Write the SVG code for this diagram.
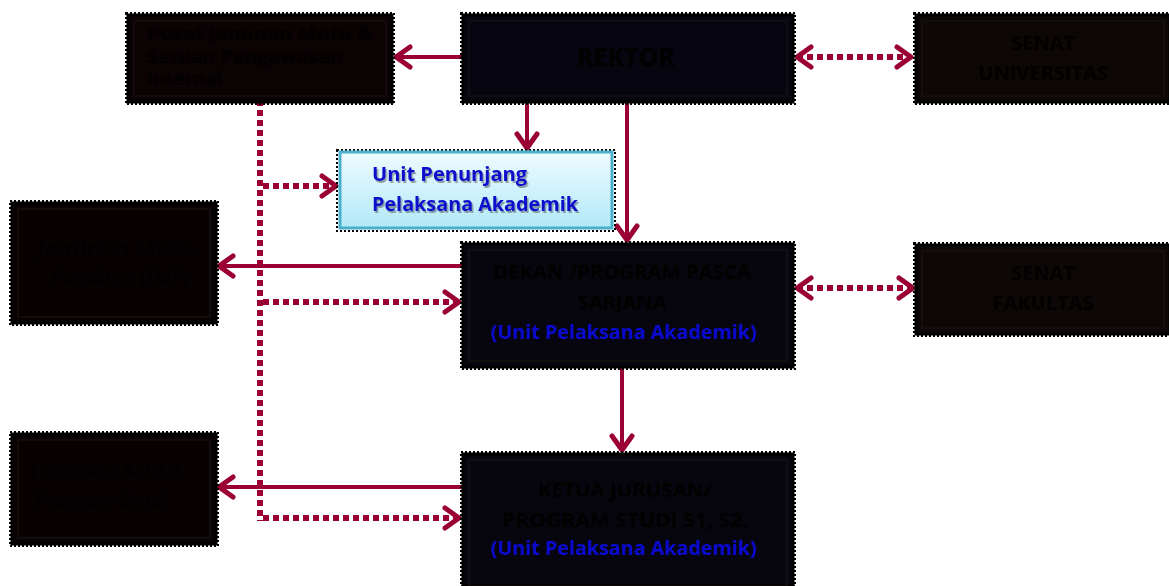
<svg xmlns="http://www.w3.org/2000/svg" width="1169" height="586" viewBox="0 0 1169 586">
<defs>
<linearGradient id="blue" x1="0" y1="0" x2="0" y2="1">
<stop offset="0" stop-color="#eefbff"/>
<stop offset="1" stop-color="#b2e9f9"/>
</linearGradient>
<filter id="shadow" x="-10%" y="-30%" width="120%" height="160%">
<feDropShadow dx="1.5" dy="2" stdDeviation="0.6" flood-color="#333" flood-opacity="0.45"/>
</filter>
<marker id="ah" markerUnits="userSpaceOnUse" markerWidth="30" markerHeight="30" viewBox="-20 -15 24 30" refX="0" refY="0" orient="auto-start-reverse">
<path d="M -14 -10 L 0 0 L -14 10" fill="none" stroke="#9a0036" stroke-width="5" stroke-linecap="round" stroke-linejoin="round"/>
</marker>
<style>
.box{stroke:#000;stroke-width:3}
.edge{fill:none;stroke:#000;stroke-width:2;stroke-dasharray:2 2}
.inner{fill:none;stroke:#1c1414;stroke-width:1}
.t{font-family:"Open Sans","Liberation Sans",sans-serif;font-weight:bold;fill:#030000}
.b{font-family:"Open Sans","Liberation Sans",sans-serif;font-weight:bold;fill:#0a0acc}
.solid{fill:none;stroke:#9a0036;stroke-width:4}
.dot{fill:none;stroke:#9a0036;stroke-width:6;stroke-dasharray:6 4}
</style>
</defs>
<rect width="1169" height="586" fill="#fff"/>

<g id="connectors">
<line class="solid" x1="462" y1="57" x2="396" y2="57" marker-end="url(#ah)"/>
<line class="dot" x1="797" y1="57" x2="911" y2="57" marker-start="url(#ah)" marker-end="url(#ah)"/>
<line class="solid" x1="527" y1="103" x2="527" y2="148" marker-end="url(#ah)"/>
<line class="solid" x1="627" y1="97" x2="627" y2="240" marker-end="url(#ah)"/>
<line class="dot" x1="260" y1="100" x2="260" y2="521"/>
<line class="dot" x1="263" y1="186" x2="336" y2="186" marker-end="url(#ah)"/>
<line class="solid" x1="462" y1="266" x2="219" y2="266" marker-end="url(#ah)"/>
<line class="dot" x1="263" y1="302" x2="459" y2="302" marker-end="url(#ah)"/>
<line class="dot" x1="797" y1="288" x2="913" y2="288" marker-start="url(#ah)" marker-end="url(#ah)"/>
<line class="solid" x1="622" y1="367" x2="622" y2="450" marker-end="url(#ah)"/>
<line class="solid" x1="462" y1="487" x2="219" y2="487" marker-end="url(#ah)"/>
<line class="dot" x1="263" y1="518" x2="459" y2="518" marker-end="url(#ah)"/>
</g>

<g id="pusat">
<rect class="edge" x="126" y="13" width="268" height="91"/>
<rect class="box" x="128" y="15" width="264" height="87" fill="#0a0203"/>
<rect class="inner" x="134" y="21" width="252" height="75"/>
<text class="t" font-size="17" x="147" y="40" textLength="225" lengthAdjust="spacingAndGlyphs">Pusat Jaminan Mutu &amp;</text>
<text class="t" font-size="17" x="147" y="63" textLength="196" lengthAdjust="spacingAndGlyphs">Satuan Pengawasan</text>
<text class="t" font-size="17" x="147" y="85" textLength="75" lengthAdjust="spacingAndGlyphs">Internal</text>
</g>

<g id="rektor">
<rect class="edge" x="461" y="13" width="334" height="91"/>
<rect class="box" x="463" y="15" width="330" height="87" fill="#07050f"/>
<rect class="inner" x="469" y="21" width="318" height="75"/>
<text class="t" font-size="25" x="626" y="66" text-anchor="middle">REKTOR</text>
</g>

<g id="senat-univ">
<rect class="edge" x="914" y="13" width="256" height="91"/>
<rect class="box" x="916" y="15" width="254" height="87" fill="#0d0706"/>
<rect class="inner" x="922" y="21" width="242" height="75"/>
<text class="t" font-size="20" x="1043" y="50" text-anchor="middle">SENAT</text>
<text class="t" font-size="20" x="1043" y="80" text-anchor="middle">UNIVERSITAS</text>
</g>

<g id="unit-penunjang">
<rect class="edge" x="337" y="150" width="278" height="81"/>
<rect x="340" y="152" width="272" height="76" fill="url(#blue)" stroke="#4ab0cc" stroke-width="3"/>
<text class="b" font-size="20" x="372" y="181" textLength="155" lengthAdjust="spacingAndGlyphs" filter="url(#shadow)">Unit Penunjang</text>
<text class="b" font-size="20" x="372" y="211" textLength="206" lengthAdjust="spacingAndGlyphs" filter="url(#shadow)">Pelaksana Akademik</text>
</g>

<g id="jmf">
<rect class="edge" x="10" y="201" width="208" height="124"/>
<rect class="box" x="12" y="203" width="204" height="120" fill="#080102"/>
<rect class="inner" x="18" y="209" width="192" height="108"/>
<text class="t" font-size="19" x="37" y="255" textLength="158" lengthAdjust="spacingAndGlyphs">Jaminan    Mutu</text>
<text class="t" font-size="19" x="52" y="284" textLength="137" lengthAdjust="spacingAndGlyphs">Fakultas (JMF)</text>
</g>

<g id="dekan">
<rect class="edge" x="461" y="242" width="334" height="127"/>
<rect class="box" x="463" y="244" width="330" height="123" fill="#07060f"/>
<rect class="inner" x="469" y="250" width="318" height="111"/>
<text class="t" font-size="20" x="622" y="279" text-anchor="middle" textLength="258" lengthAdjust="spacingAndGlyphs">DEKAN /PROGRAM PASCA</text>
<text class="t" font-size="20" x="622" y="309" text-anchor="middle">SARJANA</text>
<text class="b" font-size="20" x="624" y="339" text-anchor="middle" textLength="266" lengthAdjust="spacingAndGlyphs">(Unit Pelaksana Akademik)</text>
</g>

<g id="senat-fak">
<rect class="edge" x="914" y="243" width="256" height="93"/>
<rect class="box" x="916" y="245" width="254" height="89" fill="#0d0807"/>
<rect class="inner" x="922" y="251" width="242" height="77"/>
<text class="t" font-size="20" x="1043" y="280" text-anchor="middle">SENAT</text>
<text class="t" font-size="20" x="1043" y="310" text-anchor="middle">FAKULTAS</text>
</g>

<g id="jmps">
<rect class="edge" x="10" y="432" width="208" height="114"/>
<rect class="box" x="12" y="434" width="204" height="110" fill="#080102"/>
<rect class="inner" x="18" y="440" width="192" height="98"/>
<text class="t" font-size="19" x="31" y="477" textLength="150" lengthAdjust="spacingAndGlyphs">Jaminan   Mutu</text>
<text class="t" font-size="19" x="34" y="508" textLength="134" lengthAdjust="spacingAndGlyphs">Program Studi</text>
</g>

<g id="ketua">
<rect class="edge" x="461" y="452" width="334" height="134"/>
<rect class="box" x="463" y="454" width="330" height="132" fill="#07060f"/>
<rect class="inner" x="469" y="460" width="318" height="126"/>
<text class="t" font-size="20" x="625" y="497" text-anchor="middle" textLength="174" lengthAdjust="spacingAndGlyphs">KETUA JURUSAN/</text>
<text class="t" font-size="20" x="625" y="527" text-anchor="middle" textLength="246" lengthAdjust="spacingAndGlyphs">PROGRAM STUDI  S1, S2,</text>
<text class="b" font-size="20" x="624" y="555" text-anchor="middle" textLength="266" lengthAdjust="spacingAndGlyphs">(Unit Pelaksana Akademik)</text>
</g>
</svg>
